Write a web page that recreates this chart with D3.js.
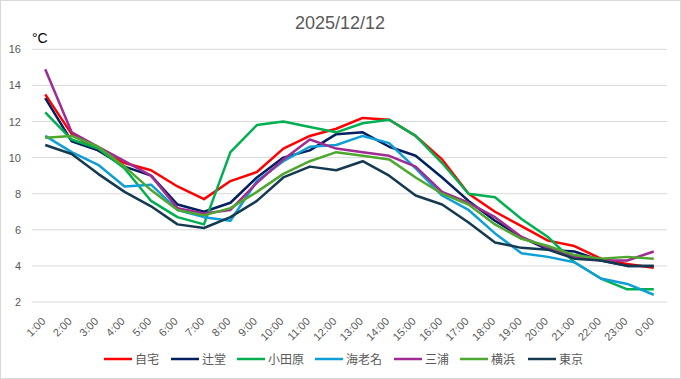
<!DOCTYPE html>
<html>
<head>
<meta charset="utf-8">
<script src="https://cdn.jsdelivr.net/npm/d3@7/dist/d3.min.js"></script>
<style>
  body { margin: 0; background: #fff; }
  svg { font-family: "Noto Sans CJK JP", "Liberation Sans", sans-serif; }
</style>
</head>
<body>
<script>
var w = 681;
var h = 379;

var hours = ["1:00","2:00","3:00","4:00","5:00","6:00","7:00","8:00","9:00","10:00","11:00","12:00",
             "13:00","14:00","15:00","16:00","17:00","18:00","19:00","20:00","21:00","22:00","23:00","0:00"];
var yTicks = [2, 4, 6, 8, 10, 12, 14, 16];

var names = ["自宅", "辻堂", "小田原", "海老名", "三浦", "横浜", "東京"];
var colors = ["#ff0000", "#002060", "#00b050", "#0f9ed5", "#a02b93", "#4ea72e", "#153a4f"];

var jitaku   = [13.5, 11.3, 10.4, 9.7, 9.3, 8.4, 7.7, 8.7, 9.2, 10.5, 11.2, 11.6, 12.2, 12.1, 11.2, 9.9, 8.0, 7.0, 6.2, 5.4, 5.1, 4.4, 4.1, 3.9];
var tsujido  = [13.3, 10.9, 10.4, 9.5, 9.0, 7.4, 7.0, 7.5, 8.9, 10.0, 10.4, 11.3, 11.4, 10.6, 10.1, 8.9, 7.6, 6.5, 5.6, 4.9, 4.8, 4.3, 4.0, 4.0];
var odawara  = [12.5, 11.0, 10.5, 9.4, 7.6, 6.7, 6.3, 10.3, 11.8, 12.0, 11.7, 11.4, 11.9, 12.1, 11.2, 9.7, 8.0, 7.8, 6.6, 5.6, 4.2, 3.3, 2.7, 2.7];
var ebina    = [11.2, 10.3, 9.6, 8.4, 8.5, 7.1, 6.7, 6.5, 8.7, 9.8, 10.6, 10.7, 11.2, 10.8, 9.4, 7.9, 7.1, 5.8, 4.7, 4.5, 4.2, 3.3, 3.0, 2.4];
var miura    = [14.9, 11.4, 10.6, 9.8, 9.0, 7.2, 6.9, 7.1, 8.6, 9.9, 11.0, 10.5, 10.3, 10.1, 9.5, 8.1, 7.5, 6.7, 5.6, 5.0, 4.5, 4.3, 4.3, 4.8];
var yokohama = [11.1, 11.2, 10.6, 9.5, 8.2, 7.1, 6.8, 7.2, 8.1, 9.1, 9.8, 10.3, 10.1, 9.9, 8.9, 8.0, 7.4, 6.3, 5.5, 5.1, 4.6, 4.4, 4.5, 4.4];
var tokyo    = [10.7, 10.2, 9.1, 8.1, 7.3, 6.3, 6.1, 6.7, 7.6, 8.9, 9.5, 9.3, 9.8, 9.0, 7.9, 7.4, 6.4, 5.3, 5.0, 4.9, 4.4, 4.3, 4.0, 4.0];

var allSeries = [jitaku, tsujido, odawara, ebina, miura, yokohama, tokyo];

var svg = d3.select("body").append("svg")
            .attr("width", w)
            .attr("height", h);

// chart border
svg.append("rect")
   .attr("x", 0.5).attr("y", 0.5)
   .attr("width", w - 1).attr("height", h - 1)
   .attr("fill", "#fff")
   .attr("stroke", "#d9d9d9");

var plotLeft = 32, plotRight = 667, plotTop = 49.3, plotBottom = 302;

var x = d3.scaleBand().domain(hours).range([plotLeft, plotRight]);
var y = d3.scaleLinear().domain([2, 16]).range([plotBottom, plotTop]);

// gridlines
svg.selectAll("line.grid").data(yTicks)
   .enter().append("line")
   .attr("class", "grid")
   .attr("x1", plotLeft).attr("x2", plotRight)
   .attr("y1", function(d) { return y(d); })
   .attr("y2", function(d) { return y(d); })
   .attr("stroke", "#d9d9d9")
   .attr("stroke-width", 1);

// y labels
svg.selectAll("text.ylab").data(yTicks)
   .enter().append("text")
   .attr("class", "ylab")
   .attr("x", 21)
   .attr("y", function(d) { return y(d) + 4; })
   .attr("text-anchor", "end")
   .attr("font-size", "11px")
   .attr("fill", "#595959")
   .attr("font-family", "Liberation Sans, sans-serif")
   .text(function(d) { return d; });

// x labels
svg.selectAll("text.xlab").data(hours)
   .enter().append("text")
   .attr("class", "xlab")
   .attr("transform", function(d) {
      return "translate(" + (x(d) + x.bandwidth() / 2 + 1) + "," + (plotBottom + 20) + ") rotate(-45)";
   })
   .attr("text-anchor", "end")
   .attr("font-size", "11px")
   .attr("fill", "#595959")
   .attr("font-family", "Liberation Sans, sans-serif")
   .text(function(d) { return d; });

// title
svg.append("text")
   .attr("x", 340).attr("y", 29)
   .attr("text-anchor", "middle")
   .attr("font-size", "18px")
   .attr("fill", "#595959")
   .attr("font-family", "Liberation Sans, sans-serif")
   .text("2025/12/12");

// unit
svg.append("text")
   .attr("x", 32).attr("y", 43)
   .attr("font-size", "14px")
   .attr("fill", "#000")
   .attr("font-family", "Liberation Sans, sans-serif")
   .text("°C");

var line = d3.line()
   .x(function(d, i) { return x(hours[i]) + x.bandwidth() / 2; })
   .y(function(d) { return y(d); });

svg.selectAll("path.series").data(allSeries)
   .enter().append("path")
   .attr("class", "series")
   .attr("d", line)
   .attr("fill", "none")
   .attr("stroke", function(d, i) { return colors[i]; })
   .attr("stroke-width", 2.5)
   .attr("stroke-linejoin", "round");

// legend
var legX = [104, 171, 237, 315, 394, 460, 528];
var leg = svg.selectAll("g.leg").data(names)
   .enter().append("g")
   .attr("class", "leg")
   .attr("transform", function(d, i) { return "translate(" + legX[i] + ",359)"; });

leg.append("line")
   .attr("x1", 0).attr("x2", 28)
   .attr("stroke", function(d, i) { return colors[i]; })
   .attr("stroke-width", 2.5);

leg.append("text")
   .attr("x", 31)
   .attr("y", 4.5)
   .attr("font-size", "12px")
   .attr("fill", "#595959")
   .text(function(d) { return d; });
</script>
</body>
</html>
